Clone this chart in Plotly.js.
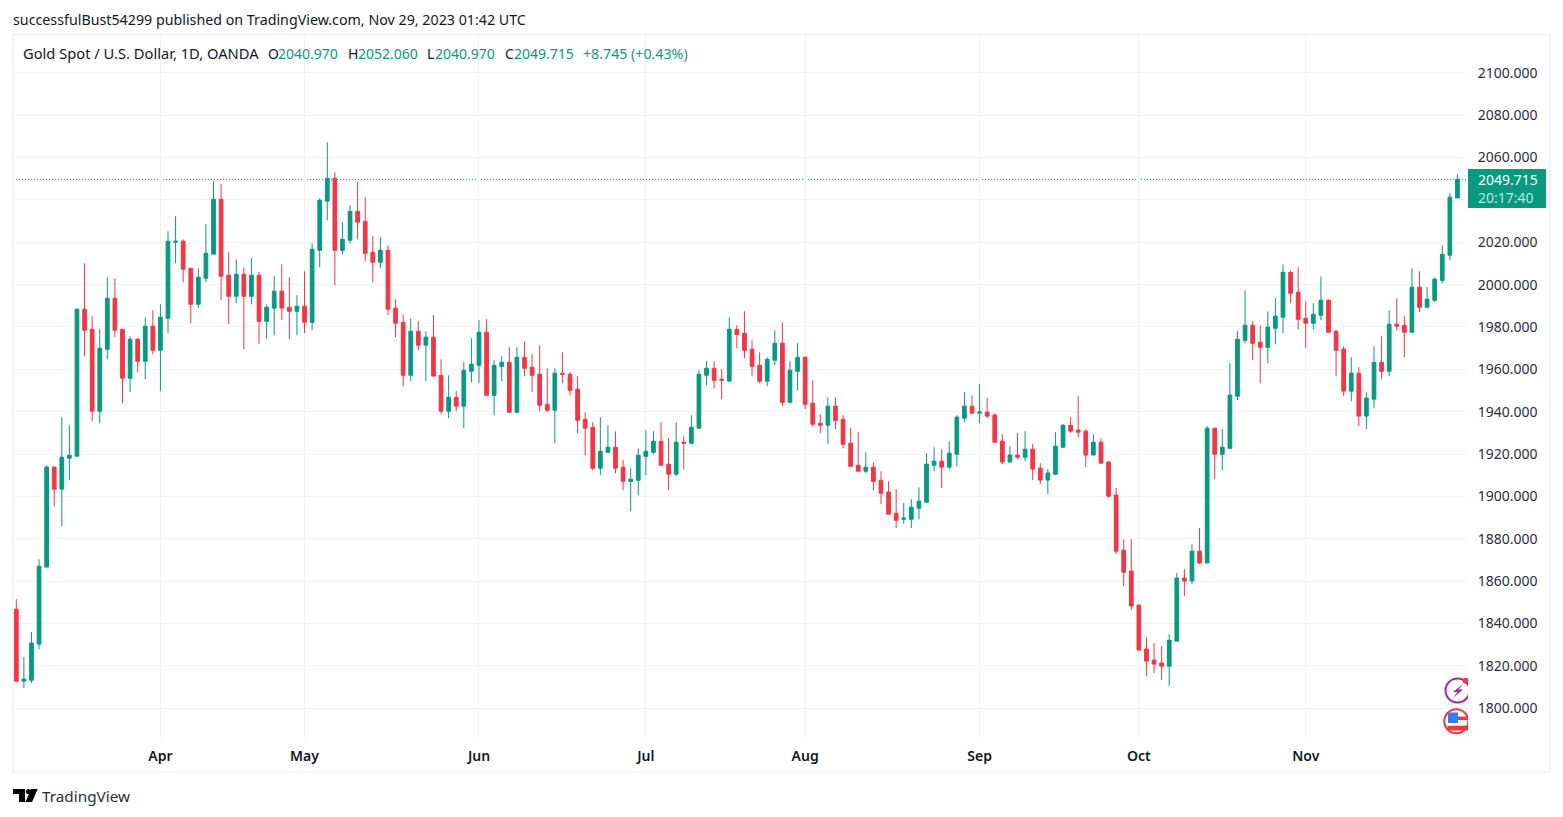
<!DOCTYPE html>
<html>
<head>
<meta charset="utf-8">
<script src="https://cdn.plot.ly/plotly-3.0.1.min.js"></script>
<style>
    html, body { margin: 0; padding: 0; background: #ffffff; }
    #chart { width: 1563px; height: 817px; }
</style>
</head>
<body>
<div id="chart"></div>
<script>
const opens = [
    1846.7,1812.7,1813.2,1830.2,1866.6,1913.8,1903.4,1918.0,1919.0,1988.4,
    1978.9,1940.2,1969.5,1993.6,1978.9,1955.8,1974.2,1963.8,1980.4,1969.0,
    1984.1,2020.0,2020.5,2007.7,1990.7,2003.0,2014.4,2040.3,2004.4,1994.5,
    2004.9,1994.5,2004.4,1982.7,1988.9,1996.9,1989.3,1987.4,1989.8,1982.2,
    2016.2,2039.4,2050.2,2016.2,2021.0,2034.6,2029.9,2015.3,2010.6,2016.2,
    1988.9,1982.2,1957.2,1978.0,1971.4,1975.2,1957.2,1940.2,1946.8,1942.6,
    1959.1,1961.9,1977.5,1947.7,1961.4,1963.3,1939.7,1965.7,1961.0,1957.7,
    1943.5,1940.7,1958.1,1957.7,1950.6,1936.4,1932.6,1913.3,1920.8,1923.2,
    1913.8,1907.1,1907.6,1918.9,1920.8,1926.0,1915.2,1910.5,1925.6,1925.1,
    1932.2,1957.2,1960.5,1955.3,1954.4,1978.9,1977.0,1969.5,1961.9,1954.4,
    1964.3,1972.3,1944.4,1959.1,1965.7,1944.0,1934.5,1933.6,1942.6,1936.4,
    1925.1,1914.7,1911.9,1913.8,1907.6,1902.0,1892.0,1889.2,1889.2,1894.4,
    1897.2,1914.7,1916.6,1913.8,1919.9,1936.9,1942.6,1939.3,1939.8,1938.4,
    1926.1,1916.2,1919.5,1918.5,1922.3,1913.3,1907.7,1910.5,1923.2,1933.6,
    1931.3,1930.8,1919.5,1925.6,1916.2,1900.6,1874.6,1864.7,1848.6,1827.9,
    1822.7,1821.3,1819.8,1831.6,1861.4,1860.0,1874.1,1868.5,1932.2,1919.9,
    1922.7,1947.3,1973.7,1980.8,1972.8,1970.4,1979.4,1984.6,2005.8,1996.4,
    1984.1,1981.8,1985.5,1992.6,1978.0,1969.5,1949.7,1958.2,1937.9,1945.9,
    1963.3,1959.1,1981.3,1980.8,1977.5,1998.8,1989.3,1992.6,2002.0,2013.9,2040.97
];
const highs = [
    1851.4,1824.1,1835.9,1870.3,1914.7,1914.2,1937.4,1933.6,1988.4,2010.1,
    1985.1,1978.9,2003.5,2003.0,1978.9,1975.6,1974.7,1984.6,1987.9,1990.7,
    2025.2,2032.3,2021.4,2007.7,2007.7,2028.5,2048.8,2047.4,2015.3,2012.0,
    2008.2,2012.5,2005.9,1990.7,2004.0,2009.6,2003.5,1995.0,2006.3,2019.5,
    2040.8,2067.2,2053.1,2029.5,2037.5,2048.4,2041.3,2022.9,2022.4,2018.6,
    1993.1,1986.0,1984.1,1982.7,1978.0,1985.6,1964.8,1957.2,1949.7,1963.4,
    1974.7,1983.2,1983.7,1964.3,1966.2,1970.4,1970.4,1973.2,1967.1,1971.4,
    1960.5,1960.5,1968.0,1958.6,1956.7,1939.7,1935.0,1937.4,1933.6,1930.7,
    1917.1,1913.3,1922.7,1931.2,1930.7,1935.0,1927.4,1935.0,1928.4,1938.3,
    1959.6,1963.8,1963.8,1960.0,1984.6,1980.8,1987.4,1973.7,1968.0,1965.7,
    1978.4,1982.2,1963.8,1972.3,1966.2,1954.8,1938.8,1946.8,1946.8,1938.3,
    1932.2,1930.3,1920.8,1916.1,1911.9,1907.1,1903.4,1896.8,1898.6,1904.3,
    1920.4,1923.2,1922.2,1926.0,1938.3,1949.2,1947.8,1953.0,1946.4,1939.3,
    1929.4,1923.7,1929.9,1930.8,1924.7,1915.7,1912.9,1930.3,1934.1,1937.4,
    1947.3,1931.7,1929.4,1927.5,1916.6,1903.9,1879.8,1879.8,1849.1,1833.5,
    1830.7,1829.3,1834.9,1863.8,1865.6,1877.4,1885.0,1933.2,1932.2,1931.7,
    1962.9,1978.0,1997.3,1982.7,1980.8,1987.4,1993.6,2009.6,2006.8,2008.2,
    1992.1,1991.2,2003.9,1993.1,1978.5,1970.9,1965.7,1961.0,1949.2,1970.9,
    1975.6,1987.9,1993.6,1985.1,2007.7,2006.3,1998.8,2003.5,2018.6,2043.1,2052.06
];
const lows = [
    1812.7,1809.4,1811.8,1827.8,1866.6,1895.4,1885.9,1907.6,1918.5,1966.2,
    1935.5,1934.5,1964.8,1975.2,1944.0,1949.2,1958.6,1955.3,1967.1,1949.7,
    1977.1,2010.1,2001.1,1981.8,1988.9,2001.1,2014.4,1992.6,1981.3,1991.2,
    1969.5,1990.7,1971.9,1974.2,1976.1,1983.2,1974.2,1976.1,1977.1,1978.5,
    2008.2,2030.4,1999.7,2014.4,2019.5,2021.4,2011.1,2001.1,2007.7,1985.6,
    1975.2,1952.0,1954.4,1969.0,1954.4,1956.8,1938.8,1936.9,1940.2,1932.2,
    1953.9,1953.4,1947.7,1938.3,1954.4,1939.7,1939.7,1956.7,1949.2,1940.2,
    1939.7,1925.1,1953.4,1947.7,1929.8,1919.4,1912.3,1910.0,1920.8,1910.9,
    1902.9,1893.0,1900.5,1910.0,1919.9,1914.7,1902.9,1909.5,1912.8,1924.6,
    1932.2,1952.5,1951.0,1945.9,1954.4,1969.9,1965.2,1956.7,1953.4,1952.0,
    1961.9,1942.6,1944.4,1950.1,1941.1,1933.1,1929.8,1924.6,1931.7,1922.7,
    1914.2,1911.9,1910.9,1902.9,1896.3,1891.6,1885.0,1886.8,1885.0,1889.2,
    1897.2,1911.9,1903.8,1912.8,1914.2,1935.0,1939.3,1934.6,1936.9,1925.6,
    1915.2,1916.2,1917.6,1916.6,1907.7,1905.8,1901.1,1910.0,1922.8,1929.9,
    1928.0,1913.8,1919.5,1915.2,1899.2,1872.7,1857.6,1846.3,1827.4,1815.1,
    1816.5,1813.2,1810.4,1831.6,1852.9,1858.6,1868.0,1868.5,1908.1,1912.4,
    1922.7,1945.4,1972.3,1964.3,1953.4,1962.9,1971.8,1977.0,1991.2,1978.9,
    1970.0,1978.9,1983.2,1977.5,1956.7,1947.3,1944.9,1933.1,1931.7,1941.6,
    1955.3,1956.7,1978.5,1965.7,1977.5,1987.0,1989.3,1991.7,2000.6,2011.5,2040.97
];
const closes = [
    1812.7,1813.7,1830.7,1867.0,1913.8,1903.4,1918.5,1919.4,1988.4,1978.5,
    1940.2,1970.0,1993.6,1978.5,1955.8,1974.2,1963.8,1980.4,1969.0,1984.6,
    2020.5,2020.5,2007.3,1990.7,2003.5,2014.8,2040.3,2004.0,1994.5,2004.9,
    1994.5,2004.4,1982.7,1989.3,1996.9,1988.9,1987.4,1989.8,1982.2,2016.7,
    2039.8,2050.2,2016.2,2021.4,2034.6,2029.5,2014.8,2010.6,2016.2,1988.4,
    1981.8,1957.2,1978.0,1971.4,1975.2,1956.8,1940.2,1946.8,1942.6,1959.6,
    1962.4,1977.5,1947.7,1961.9,1963.3,1939.7,1965.7,1960.5,1957.2,1943.0,
    1940.7,1958.1,1957.7,1950.1,1935.9,1932.2,1913.3,1921.3,1923.2,1913.3,
    1907.1,1908.1,1919.4,1921.3,1926.0,1914.7,1910.5,1925.6,1925.1,1932.6,
    1957.7,1960.5,1954.8,1954.8,1978.9,1976.5,1969.0,1961.4,1954.4,1964.7,
    1972.3,1944.4,1959.6,1965.7,1943.5,1934.1,1933.6,1942.6,1935.9,1924.6,
    1914.2,1911.9,1913.8,1907.1,1901.5,1891.6,1888.7,1889.7,1894.9,1897.7,
    1915.2,1916.6,1913.8,1920.4,1937.4,1942.6,1939.3,1939.8,1937.9,1925.6,
    1916.2,1919.5,1918.5,1922.3,1912.9,1907.7,1911.0,1923.7,1933.6,1930.8,
    1930.3,1919.5,1925.6,1915.7,1900.1,1874.1,1864.2,1848.2,1827.4,1822.2,
    1820.8,1819.8,1832.1,1861.4,1860.0,1874.1,1868.5,1932.2,1919.9,1923.2,
    1947.8,1974.2,1980.8,1972.3,1970.4,1979.9,1985.1,2005.8,1995.9,1983.6,
    1981.8,1986.0,1992.6,1977.5,1969.0,1949.7,1958.2,1937.9,1946.4,1963.3,
    1959.1,1981.3,1980.3,1977.5,1998.8,1989.3,1993.1,2002.5,2014.3,2041.3,2049.715
];

// bar number of the first session of each month
const monthTicks = [19, 38, 61, 83, 104, 127, 148, 170];
const monthLabels = ['Apr', 'May', 'Jun', 'Jul', 'Aug', 'Sep', 'Oct', 'Nov'];
const priceTicks = [1800, 1820, 1840, 1860, 1880, 1900, 1920, 1940, 1960, 1980, 2000, 2020, 2040, 2060, 2080, 2100];

const UP = '#089981';
const DOWN = '#F23645';
const INK = '#131722';
const GRID = '#f2f3f6';
const FRAME = '#f0f3fa';
const FONT = '"Noto Sans", sans-serif';

// plot area in page pixels, everything around it is placed from these
const plotLeft = 13, plotRight = 1467, plotTop = 35, plotBottom = 739;
const px = (x) => (x - plotLeft) / (plotRight - plotLeft);
const py = (y) => (plotBottom - y) / (plotBottom - plotTop);

const label = (x, y, text, color, size, anchor) => ({
    xref: 'paper', yref: 'paper', x: px(x), y: py(y),
    xanchor: anchor || 'left', yanchor: 'middle', align: 'left',
    text: text, showarrow: false, borderpad: 0, borderwidth: 0,
    font: {family: FONT, size: size || 14, color: color || INK},
});

const path = (points, color) => ({
    type: 'path', xref: 'paper', yref: 'paper', layer: 'above',
    path: 'M' + points.map((p) => px(p[0]) + ',' + py(p[1])).join('L') + 'Z',
    fillcolor: color, line: {width: 0},
});

const box = (x0, y0, x1, y1, fill, line, lineWidth) => ({
    type: 'rect', xref: 'paper', yref: 'paper', layer: 'above',
    x0: px(x0), x1: px(x1), y0: py(y0), y1: py(y1),
    fillcolor: fill, line: {color: line || fill, width: lineWidth || 0},
});

const circle = (cx, cy, r, fill, line, lineWidth) => ({
    type: 'circle', xref: 'paper', yref: 'paper', layer: 'above',
    x0: px(cx - r), x1: px(cx + r), y0: py(cy + r), y1: py(cy - r),
    fillcolor: fill, line: {color: line || fill, width: lineWidth || 0},
});

const last = closes.length - 1;

const candles = {
    type: 'candlestick',
    x: closes.map((c, i) => i),
    open: opens,
    high: highs,
    low: lows,
    close: closes,
    width: 0.55,
    whiskerwidth: 0,
    increasing: {line: {color: UP, width: 1}, fillcolor: UP},
    decreasing: {line: {color: DOWN, width: 1}, fillcolor: DOWN},
    hoverinfo: 'skip',
};

const layout = {
    width: 1563,
    height: 817,
    margin: {l: plotLeft, r: 1563 - plotRight, t: plotTop, b: 817 - plotBottom, pad: 0},
    paper_bgcolor: '#ffffff',
    plot_bgcolor: '#ffffff',
    showlegend: false,
    hovermode: false,
    dragmode: false,
    font: {family: FONT, size: 14, color: INK},
    xaxis: {
        type: 'linear',
        range: [-0.435, 191.26],
        tickmode: 'array',
        tickvals: monthTicks,
        ticktext: monthLabels,
        showgrid: true,
        gridcolor: GRID,
        gridwidth: 1,
        zeroline: false,
        showline: false,
        ticks: 'outside',
        ticklen: 4,
        tickcolor: 'rgba(0,0,0,0)',
        tickfont: {family: FONT, size: 14, color: INK, weight: 600},
        rangeslider: {visible: false},
    },
    yaxis: {
        side: 'right',
        range: [1785.4, 2117.9],
        tickmode: 'array',
        tickvals: priceTicks,
        ticktext: priceTicks.map((p) => p.toFixed(3)),
        showgrid: true,
        gridcolor: GRID,
        gridwidth: 1,
        zeroline: false,
        showline: false,
        ticks: 'outside',
        ticklen: 7,
        tickcolor: 'rgba(0,0,0,0)',
        tickfont: {family: FONT, size: 14, color: '#2a2e39'},
    },
    shapes: [
        // last price line
        {
            type: 'line', xref: 'paper', yref: 'y', layer: 'below',
            x0: 0, x1: 1, y0: closes[last], y1: closes[last],
            line: {color: UP, width: 1, dash: '1px,2px'},
        },
        // outer frame
        box(13, 34.5, 1550, 772, 'rgba(0,0,0,0)', FRAME, 2),
        // last price tag
        box(1468, 169, 1546, 208, UP),
        // event icons, right side is cut by the price scale
        circle(1457.5, 690.5, 12, '#ffffff', '#9c27b0', 2),
        path([[1463, 684], [1453, 692], [1457.5, 692], [1453, 698], [1463, 689.5], [1458.5, 689.5]], '#9c27b0'),
        circle(1465.7, 680.7, 3, DOWN),
        circle(1456.3, 721.3, 12, '#ffffff', DOWN, 2),
        box(1448, 712.5, 1458, 723, '#2f80ed'),
        box(1458, 716.5, 1468, 720, DOWN),
        box(1447.5, 725.7, 1468, 730.5, DOWN),
        box(1468, 676, 1477, 736, '#ffffff'),
        // TradingView logo
        path([[13, 789], [25, 789], [25, 802], [19, 802], [19, 794], [13, 794]], '#000000'),
        circle(28.5, 791.5, 2.6, '#000000'),
        path([[31, 789], [37.7, 789], [32, 802], [25.5, 802]], '#000000'),
    ],
    annotations: [
        label(13, 19.5, 'successfulBust54299 published on TradingView.com, Nov 29, 2023 01:42 UTC', INK, 14.25),
        label(23, 53.5, 'Gold Spot / U.S. Dollar, 1D, OANDA', INK, 14.7),
        label(268, 54, 'O'),
        label(278, 54, opens[last].toFixed(3), UP),
        label(348, 54, 'H'),
        label(358, 54, highs[last].toFixed(3), UP),
        label(427, 54, 'L'),
        label(435, 54, lows[last].toFixed(3), UP),
        label(505, 54, 'C'),
        label(514, 54, closes[last].toFixed(3), UP),
        label(583, 54, '+8.745 (+0.43%)', UP, 14.2),
        label(1478, 188.5, closes[last].toFixed(3) + '<br><span style="color:rgba(255,255,255,0.75)">20:17:40</span>', '#ffffff'),
        label(42, 795.5, 'TradingView', '#2a2e39', 15.3),
    ],
};

Plotly.newPlot('chart', [candles], layout, {displayModeBar: false, staticPlot: true});
</script>
</body>
</html>
